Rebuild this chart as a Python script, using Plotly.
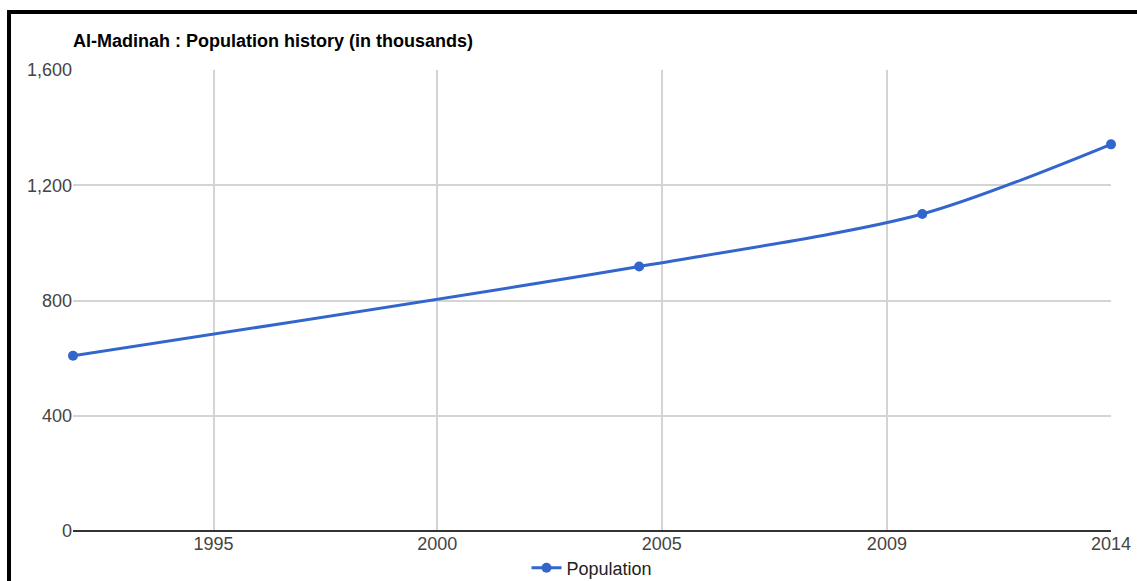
import plotly.graph_objects as go

# Data (population in thousands)
years = [1992, 2004, 2010, 2014]
population = [608, 918, 1100, 1342]

# Axis ticks
x_tick_pos = [1994.98, 1999.72, 2004.48, 2009.25, 2014]
x_tick_text = ["1995", "2000", "2005", "2009", "2014"]
y_tick_vals = [0, 400, 800, 1200, 1600]

W, H = 1137, 581
L, R, T, B = 73, 1111, 70, 531

fig = go.Figure()
fig.add_trace(go.Scatter(
    x=years, y=population, name="Population",
    mode="lines+markers",
    line=dict(color="#3366cc", width=3, shape="spline", smoothing=0.8),
    marker=dict(color="#3366cc", size=10),
    cliponaxis=False,
))

def px(x):
    return (x - L) / (R - L)

def py(y):
    return (B - y) / (B - T)

fig.update_layout(
    width=W, height=H,
    margin=dict(l=L, r=W - R, t=T, b=H - B, pad=0, autoexpand=False),
    paper_bgcolor="white", plot_bgcolor="white",
    font=dict(family="Liberation Sans, Arial, sans-serif", size=18, color="#444444"),
    title=dict(
        text="<b>Al-Madinah : Population history (in thousands)</b>",
        font=dict(family="Liberation Sans, Arial, sans-serif", size=18, color="#000000"),
        xref="paper", x=0, xanchor="left",
        yref="container", y=1 - 41 / H, yanchor="middle",
    ),
    xaxis=dict(
        range=[years[0], years[-1]],
        tickvals=x_tick_pos, ticktext=x_tick_text,
        showgrid=True, gridcolor="#d4d4d4", gridwidth=1.5,
        zeroline=False, showline=False, ticks="",
        tickfont=dict(size=18, color="#444444"),
        automargin=False,
    ),
    yaxis=dict(
        range=[0, 1600], tickvals=y_tick_vals, tickformat=",",
        showgrid=True, gridcolor="#d4d4d4", gridwidth=1.5,
        zeroline=True, zerolinecolor="#333333", zerolinewidth=2,
        showline=False, ticks="",
        tickfont=dict(size=18, color="#444444"),
        automargin=False,
    ),
    showlegend=True,
    legend=dict(
        orientation="h", x=0.5, xanchor="center",
        yref="container", y=1 - 568 / H, yanchor="middle",
        font=dict(size=18, color="#222222"),
        bgcolor="rgba(0,0,0,0)",
    ),
    shapes=[
        dict(type="line", xref="paper", yref="paper",
             x0=px(7), x1=px(W + 5), y0=py(12), y1=py(12),
             line=dict(color="black", width=4)),
        dict(type="line", xref="paper", yref="paper",
             x0=px(9), x1=px(9), y0=py(10), y1=py(H + 5),
             line=dict(color="black", width=4)),
    ],
)

fig.write_html("out.html")
